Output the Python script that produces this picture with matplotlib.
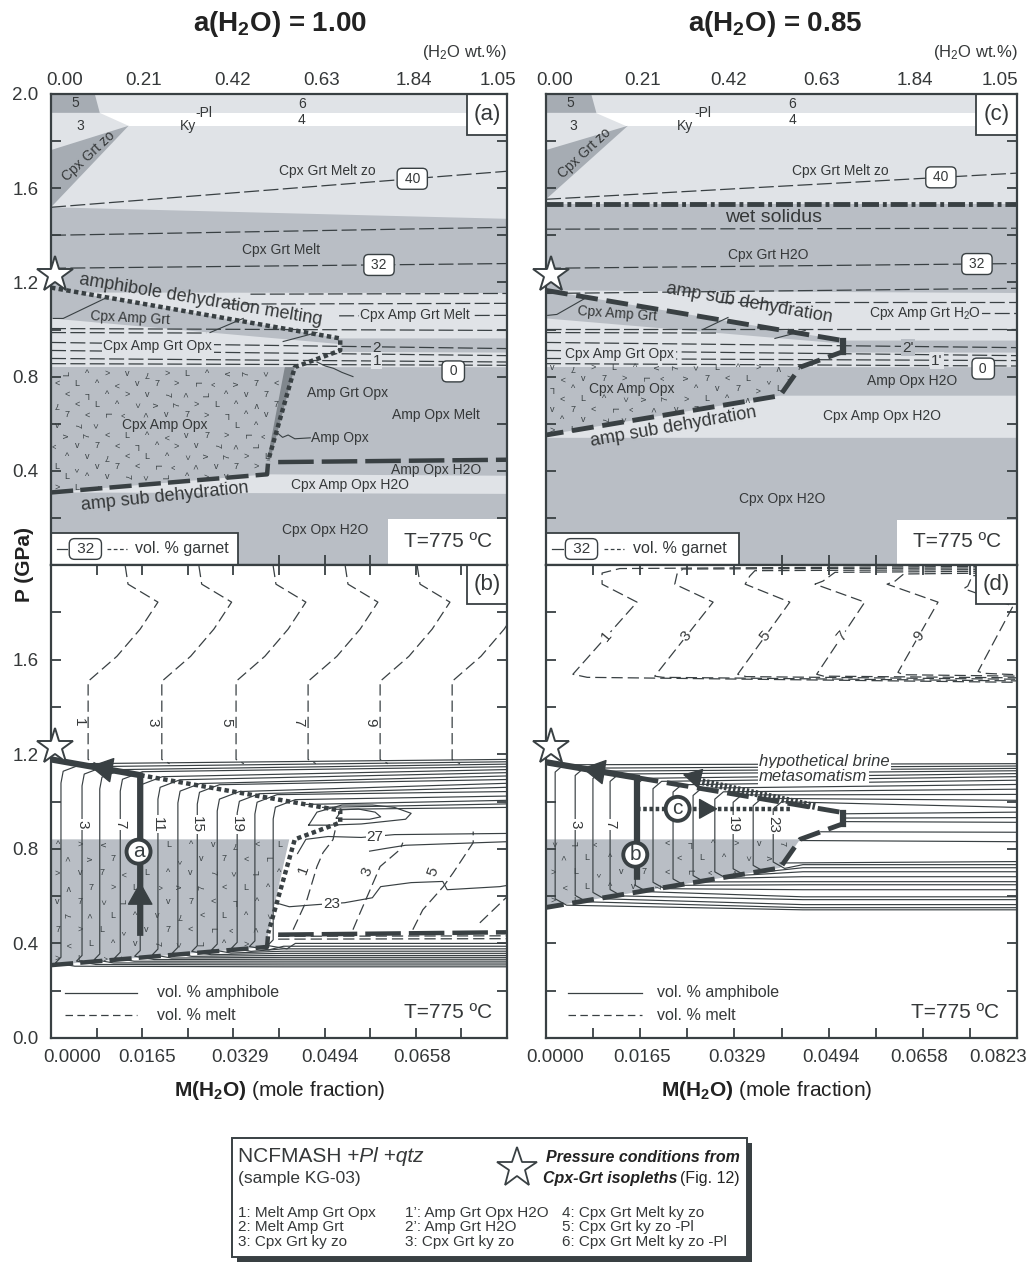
import numpy as np
import matplotlib
matplotlib.use("Agg")
import matplotlib.pyplot as plt
from matplotlib.patches import Polygon, Rectangle
from matplotlib.path import Path
from matplotlib.transforms import ScaledTranslation

plt.rcParams['font.family'] = ['Liberation Sans', 'DejaVu Sans']
plt.rcParams['mathtext.fontset'] = 'custom'
plt.rcParams['mathtext.rm'] = 'Liberation Sans'
plt.rcParams['mathtext.it'] = 'Liberation Sans:italic'
plt.rcParams['mathtext.bf'] = 'Liberation Sans:bold'

# palette
LIGHT = '#e0e3e7'
MED = '#b9bec5'
DARK = '#a6acb3'
SLIVER = '#80878d'
INK = '#394043'
TXT = '#353839'

XMAX = 0.0823
PMAX = 2.0

# axis ticks and labels
x_major = [0.0, 0.0165, 0.0329, 0.0494, 0.0658, 0.0823]
x_bottom_labels = ['0.0000', '0.0165', '0.0329', '0.0494', '0.0658', '0.0823']
x_top_labels = ['0.00', '0.21', '0.42', '0.63', '1.84', '1.05']
p_ticks = [0.0, 0.2, 0.4, 0.6, 0.8, 1.0, 1.2, 1.4, 1.6, 1.8, 2.0]

# pressure from Cpx-Grt isopleths
star_x, star_p = 0.0008, 1.23

# ---------------- fields common to both water activities
f5_x = [0.0, 0.0079, 0.0088, 0.0]
f5_p = [2.0, 2.0, 1.92, 1.92]
ky_x = [0.0088, XMAX, XMAX, 0.0140]
ky_p = [1.92, 1.92, 1.865, 1.865]

# ---------------- a(H2O) = 1.00 pseudosection
zo_a_x = [0.0, 0.0140, 0.0]
zo_a_p = [1.762, 1.865, 1.519]
hi_a_x = [0.0, XMAX, XMAX, 0.0]
hi_a_p = [2.0, 2.0, 1.47, 1.519]
mband_a_x = [0.0044, XMAX, XMAX, 0.0522]
mband_a_p = [1.157, 1.155, 0.962, 0.962]
low_a_x = [0.0, 0.0522, 0.0522, XMAX, XMAX, 0.0]
low_a_p = [1.047, 0.938, 0.905, 0.902, 0.840, 0.840]
hatch_a_x = [0.0, 0.0422, 0.0390, 0.0390, 0.0]
hatch_a_p = [0.840, 0.840, 0.443, 0.385, 0.308]
sliver_a_x = [0.0422, 0.0440, 0.0395, 0.0390]
sliver_a_p = [0.840, 0.840, 0.443, 0.443]
h2o_a_x = [0.0, 0.0390, XMAX, XMAX]
h2o_a_p = [0.308, 0.385, 0.379, 0.302]
dm_x = [0.0, 0.0522, 0.0522, 0.0440, 0.0392]
dm_p = [1.178, 0.962, 0.911, 0.840, 0.443]
sub_a_x = [0.0, 0.0390, 0.0392]
sub_a_p = [0.308, 0.385, 0.443]
sat_x = [0.0410, XMAX]
sat_p = [0.437, 0.447]

grt_a = [(0.0, XMAX, 1.519, 1.672), (0.0, XMAX, 1.400, 1.434), (0.0, XMAX, 1.260, 1.280),
         (0.036, XMAX, 1.150, 1.153), (0.031, XMAX, 1.108, 1.111), (0.052, XMAX, 1.058, 1.060),
         (0.0, XMAX, 1.004, 0.996), (0.0, 0.028, 0.987, 0.985), (0.0, XMAX, 0.945, 0.919),
         (0.0, XMAX, 0.911, 0.889), (0.0, XMAX, 0.877, 0.862), (0.0, XMAX, 0.855, 0.848)]
grt_a_tags = [('40', 0.0652, 1.640), ('32', 0.0592, 1.274), ('0', 0.0726, 0.822)]
lead_a = [([0.0004, 0.0022, 0.0101], [1.047, 1.047, 1.136]),
          ([0.0287, 0.0347], [0.987, 1.047]),
          ([0.0419, 0.0480], [0.949, 0.987]),
          ([0.0480, 0.0495, 0.0510, 0.0525, 0.0545], [0.862, 0.845, 0.835, 0.818, 0.800]),
          ([0.0408, 0.0418, 0.0428, 0.0440, 0.0468], [0.562, 0.542, 0.552, 0.536, 0.540])]

# ---------------- a(H2O) = 0.85 pseudosection
zo_c_x = [0.0, 0.0143, 0.0]
zo_c_p = [1.762, 1.865, 1.553]
hi_c_x = [0.0, XMAX, XMAX, 0.0]
hi_c_p = [2.0, 2.0, 1.532, 1.532]
wet_solidus_p = 1.532
mband_c_x = [0.0, XMAX, XMAX, 0.0519]
mband_c_p = [1.166, 1.155, 0.953, 0.953]
low_c_x = [0.0, 0.0519, 0.0519, XMAX, XMAX, 0.0]
low_c_p = [1.047, 0.940, 0.902, 0.902, 0.840, 0.840]
hatch_c_x = [0.0, 0.0444, 0.0409, 0.0]
hatch_c_p = [0.840, 0.840, 0.719, 0.552]
h2o_c_x = [0.0, 0.0409, XMAX, XMAX, 0.0]
h2o_c_p = [0.552, 0.719, 0.719, 0.540, 0.540]
sub_c_x = [0.0, 0.0519, 0.0519, 0.0444, 0.0409, 0.0]
sub_c_p = [1.166, 0.953, 0.906, 0.840, 0.719, 0.552]

grt_c = [(0.0, XMAX, 1.553, 1.664), (0.0, XMAX, 1.426, 1.430), (0.0, XMAX, 1.260, 1.280),
         (0.0, XMAX, 1.153, 1.175), (0.030, XMAX, 1.115, 1.115), (0.058, XMAX, 1.068, 1.068),
         (0.0, XMAX, 1.004, 1.004), (0.0, 0.030, 0.987, 0.985), (0.0, XMAX, 0.945, 0.923),
         (0.0, XMAX, 0.911, 0.889), (0.0, XMAX, 0.877, 0.868), (0.0, XMAX, 0.855, 0.845)]
grt_c_tags = [('40', 0.0690, 1.646), ('32', 0.0753, 1.278), ('0', 0.0764, 0.834)]
lead_c = [([0.0003, 0.0019, 0.0068], [1.060, 1.064, 1.132]),
          ([0.0274, 0.0318], [1.000, 1.051]),
          ([0.0400, 0.0453], [0.962, 0.996])]

# ---------------- isopleths, a(H2O) = 1.00 (vol. %)
melt_b_x0 = [0.0067, 0.0200, 0.0334, 0.0464, 0.0594, 0.0724]
melt_b_tags = ['1', '3', '5', '7', '9', '']
melt_b_dx = [0.0067, 0.0072, 0.0126, 0.0094, 0.0052, 0.0, 0.0, 0.0014]
melt_b_p = [1.996, 1.919, 1.843, 1.729, 1.614, 1.508, 1.178, 1.160]
amp_b_x = [0.0018, 0.0056, 0.0088, 0.0125, 0.0161, 0.0193, 0.0229, 0.0264, 0.0300, 0.0336, 0.0368, 0.0401]
amp_b_top = [1.148, 1.136, 1.123, 1.114, 1.093, 1.080, 1.064, 1.059, 1.030, 1.021, 1.017, 0.996]
amp_b_hi = [1.178, 1.168, 1.158, 1.147, 1.135, 1.122, 1.108, 1.093, 1.077, 1.060, 1.042, 1.023]
amp_b_lo = [0.301, 0.309, 0.317, 0.325, 0.333, 0.341, 0.349, 0.358, 0.367, 0.377, 0.388, 0.400]
amp_b_tags = [('3', 1), ('7', 3), ('11', 5), ('15', 7), ('19', 9)]
amp_b_extra = [(0.046, 1.005), (0.049, 0.990), (0.051, 0.975)]
amp_b_loops = [([0.0515, 0.0525, 0.0555, 0.0585, 0.0595, 0.0575, 0.0525, 0.0515],
                [0.930, 0.965, 0.968, 0.955, 0.935, 0.925, 0.925, 0.930]),
               ([0.0465, 0.0480, 0.0525, 0.0580, 0.0620, 0.0650, 0.0640, 0.0560, 0.0500, 0.0465],
                [0.900, 0.955, 0.985, 0.985, 0.975, 0.950, 0.925, 0.905, 0.900, 0.900]),
               ([0.0445, 0.0460, 0.0500, 0.0560, 0.0620, XMAX],
                [0.780, 0.840, 0.852, 0.848, 0.860, 0.865]),
               ([0.0575, 0.0600, 0.0640, XMAX], [0.790, 0.800, 0.815, 0.830]),
               ([0.0405, 0.0430, 0.0480, 0.0530, 0.0580, 0.0595, 0.0650, 0.0707, 0.0715, 0.0810, XMAX],
                [0.572, 0.555, 0.564, 0.572, 0.593, 0.640, 0.657, 0.662, 0.627, 0.640, 0.645])]
amp_b_loop_tags = [('27', 0.0585, 0.850), ('23', 0.0507, 0.566)]
meltlow_b = [([0.0437, 0.0462, 0.0480, 0.0491, 0.0509, 0.0516], [0.458, 0.585, 0.725, 0.784, 0.839, 0.911]),
             ([0.0545, 0.0558, 0.0576, 0.0594, 0.0630, 0.0635], [0.458, 0.530, 0.627, 0.725, 0.797, 0.826]),
             ([0.0653, 0.0671, 0.0708, 0.0726, 0.0762, 0.0762], [0.458, 0.542, 0.640, 0.699, 0.826, 0.873]),
             ([0.0774, XMAX], [0.487, 0.597])]
meltlow_b_tags = [('1', 0.0455, 0.712), ('3', 0.0570, 0.703), ('5', 0.0689, 0.703)]
melt_flat_b = [0.430, 0.418]

# ---------------- isopleths, a(H2O) = 0.85 (vol. %)
melt_d = [([XMAX, 0.0129, 0.0098, 0.0098, 0.0159, 0.0047, 0.0072, XMAX],
           [1.995, 1.985, 1.966, 1.919, 1.843, 1.538, 1.525, 1.504]),
          ([XMAX, 0.0239, 0.0229, 0.0225, 0.0292, 0.0190, 0.0204, XMAX],
           [1.988, 1.983, 1.962, 1.919, 1.843, 1.530, 1.525, 1.510]),
          ([XMAX, 0.0365, 0.0356, 0.0348, 0.0426, 0.0335, 0.0350, XMAX],
           [1.981, 1.976, 1.953, 1.919, 1.843, 1.538, 1.528, 1.517]),
          ([XMAX, 0.0505, 0.0484, 0.0470, 0.0557, 0.0473, 0.0485, XMAX],
           [1.974, 1.969, 1.932, 1.919, 1.843, 1.538, 1.530, 1.523]),
          ([XMAX, 0.0625, 0.0610, 0.0596, 0.0685, 0.0615, 0.0625, XMAX],
           [1.967, 1.962, 1.932, 1.919, 1.843, 1.546, 1.536, 1.530]),
          ([XMAX, 0.0745, 0.0737, 0.0730, 0.0816, 0.0755, 0.0765, XMAX],
           [1.960, 1.955, 1.911, 1.900, 1.826, 1.550, 1.542, 1.536])]
melt_d_tags = ['1', '3', '5', '7', '9', '']
amp_d_x = [0.0016, 0.0051, 0.0082, 0.0112, 0.0156, 0.0187, 0.0222, 0.0257, 0.0295, 0.0327, 0.0362, 0.0397]
amp_d_hi = [1.160, 1.150, 1.140, 1.130, 1.118, 1.105, 1.090, 1.072, 1.052, 1.030, 1.005, 0.975]
amp_d_lo = [0.542, 0.551, 0.564, 0.585, 0.597, 0.627, 0.648, 0.661, 0.682, 0.703, 0.720, 0.733]
amp_d_tags = [('3', 1), ('7', 3), ('19', 9), ('23', 11)]
amp_d_extra = [(0.0519, 0.948, 0.955), (0.0519, 0.930, 0.932), (0.0519, 0.915, 0.912),
               (0.0480, 0.872, 0.870), (0.0444, 0.835, 0.830), (0.0409, 0.740, 0.746)]

# P-X paths
path_a_x = 0.0161
path_a_low = 0.445
path_b_x = 0.0159
path_b_low = 0.682
path_c_p = 0.969
path_c_x = [0.0159, 0.0430]
brine_x = [0.0470, 0.0239]
brine_p = [0.979, 1.114]

# ------------------------------------------------------------------ figure
W, H = 1032, 1267
fig = plt.figure(figsize=(W / 100, H / 100), dpi=100)


def frect(x0, y0, x1, y1):
    return [x0 / W, 1 - y1 / H, (x1 - x0) / W, (y1 - y0) / H]


ax_a = fig.add_axes(frect(51, 94, 507, 565))
ax_b = fig.add_axes(frect(51, 565, 507, 1038))
ax_c = fig.add_axes(frect(546, 94, 1017, 565))
ax_d = fig.add_axes(frect(546, 565, 1017, 1038))

minor_x = [(u + v) / 2 for u, v in zip(x_major[:-1], x_major[1:])]


def frame(ax, ylab_show, xlab_show):
    ax.set_xlim(0, XMAX)
    ax.set_ylim(0, PMAX)
    ax.set_xticks(x_major)
    ax.set_xticks(minor_x, minor=True)
    ax.set_yticks(p_ticks)
    ax.set_yticklabels([f'{p:.1f}' if f'{p:.1f}' in ylab_show else '' for p in p_ticks])
    ax.set_xticklabels([l if i in xlab_show else '' for i, l in enumerate(x_bottom_labels)])
    ax.tick_params(which='both', direction='in', length=7, width=1.3, color=INK,
                   top=True, right=True, labelsize=13.5, labelcolor=TXT)
    ax.tick_params(axis='x', pad=8)
    ax.tick_params(axis='y', pad=9)
    for s in ax.spines.values():
        s.set_color(INK)
        s.set_linewidth(1.6)
        s.set_zorder(10)


def top_axis(ax):
    t = ax.twiny()
    t.set_xlim(0, XMAX)
    t.set_xticks(x_major)
    t.set_xticklabels(x_top_labels)
    t.tick_params(length=0, pad=3.5, labelsize=13.5, labelcolor=TXT)
    for s in t.spines.values():
        s.set_visible(False)
    return t


def fill(ax, xs, ps, color, z=0.5):
    ax.add_patch(Polygon(np.column_stack([xs, ps]), closed=True, fc=color, ec='none', zorder=z))


hatch_glyphs = ['>', 'L', '^', 'v', '7', '<', 'L', '^', '>', 'v', '7']
hatch_rot = [0, 0, 90, 0, 180, 0, 270, 0, 0, 90]


def hatch_marks(ax, xs, ps, dx=0.0034, dp=0.046, skip=()):
    path = Path(np.column_stack([xs, ps]))
    k = 0
    row = 0
    p = min(ps) + dp * 0.5
    while p < max(ps):
        x = min(xs) + dx * (0.3 + 0.5 * (row % 2))
        while x < max(xs):
            free = not any(a <= x <= b and c <= p <= d for a, b, c, d in skip)
            if free and path.contains_point((x, p)):
                ax.text(x, p, hatch_glyphs[k % len(hatch_glyphs)], rotation=hatch_rot[(3 * k + row) % 10],
                        fontsize=6.5, color=INK, ha='center', va='center', zorder=1.2)
            k += 1
            x += dx
        p += dp
        row += 1


def tx(ax, x, p, s, size=10, **kw):
    opts = dict(ha='center', va='center', color=TXT, fontsize=size, zorder=4)
    opts.update(kw)
    return ax.text(x, p, s, **opts)


def tag_box(ax, x, p, s):
    ax.text(x, p, ' ' + s + ' ', ha='center', va='center', fontsize=10, color=TXT, zorder=6,
            bbox=dict(boxstyle='round,pad=0.25,rounding_size=0.35', fc='white', ec=INK, lw=1.0))


def iso_lines(ax, lines):
    for x0, x1, p0, p1 in lines:
        ax.plot([x0, x1], [p0, p1], color=INK, lw=0.9, ls=(0, (12, 3.5)), zorder=2)


def panel_tag(ax, s, p0):
    ax.add_patch(Rectangle((0.0751, p0), XMAX - 0.0751, PMAX - p0, fc='white', ec=INK, lw=1.3, zorder=7))
    tx(ax, (0.0751 + XMAX) / 2, (p0 + PMAX) / 2, s, size=16, zorder=8)


def grt_legend(ax):
    ax.add_patch(Rectangle((0.0, 0.0), 0.0338, 0.136, fc='white', ec=INK, lw=1.3, zorder=6))
    ax.plot([0.0011, 0.0029], [0.068, 0.068], color=INK, lw=0.9, zorder=7)
    ax.plot([0.0101, 0.0137], [0.068, 0.068], color=INK, lw=0.9, ls=(0, (3, 2)), zorder=7)
    ax.text(0.0062, 0.068, ' 32 ', ha='center', va='center', fontsize=11, color=TXT, zorder=8,
            bbox=dict(boxstyle='round,pad=0.22,rounding_size=0.35', fc='white', ec=INK, lw=1.0))
    tx(ax, 0.0152, 0.068, 'vol. % garnet', size=11.5, ha='left', zorder=8)


def t_label(ax, x_box, p_box, x, p):
    if x_box is not None:
        ax.add_patch(Rectangle((x_box, 0.0), XMAX - x_box, p_box, fc='white', ec='none', zorder=5))
    tx(ax, x, p, 'T=775 ºC', size=15, zorder=6)


def star(ax):
    ax.plot(star_x, star_p, marker='*', ms=27, mfc='white', mec=INK, mew=1.4,
            clip_on=False, zorder=12)


def head(ax, tip, tail, scale):
    ax.annotate('', xy=tip, xytext=tail, zorder=9, annotation_clip=False,
                arrowprops=dict(arrowstyle='-|>,head_length=0.5,head_width=0.28', mutation_scale=scale,
                                fc=INK, ec=INK, lw=1, shrinkA=0, shrinkB=0))


def circ(ax, x, p, s):
    ax.text(x, p, s, ha='center', va='center', fontsize=15, color=INK, zorder=11,
            bbox=dict(boxstyle='circle,pad=0.12', fc='white', ec=INK, lw=2.8))


LBG = dict(fc=LIGHT, ec='none', pad=1.0)
MBG = dict(fc=MED, ec='none', pad=1.0)
WBG = dict(fc='white', ec='none', pad=0.8)

# ================================================================ (a)
ax = ax_a
frame(ax, ['0.4', '0.8', '1.2', '1.6', '2.0'], [])
top_a = top_axis(ax)
ax.add_patch(Rectangle((0, 0), XMAX, PMAX, fc=MED, ec='none', zorder=0))
fill(ax, hi_a_x, hi_a_p, LIGHT)
fill(ax, f5_x, f5_p, DARK)
fill(ax, ky_x, ky_p, 'white')
fill(ax, zo_a_x, zo_a_p, DARK)
fill(ax, mband_a_x, mband_a_p, LIGHT)
fill(ax, low_a_x, low_a_p, LIGHT)
fill(ax, hatch_a_x, hatch_a_p, MED)
fill(ax, sliver_a_x, sliver_a_p, SLIVER)
fill(ax, h2o_a_x, h2o_a_p, LIGHT)
hatch_marks(ax, hatch_a_x, hatch_a_p, dx=0.0036, dp=0.044, skip=[(0.0105, 0.0305, 0.555, 0.637)])
iso_lines(ax, grt_a)
for xs, ps in lead_a:
    ax.plot(xs, ps, color=INK, lw=0.8, zorder=2.5)
ax.plot(dm_x, dm_p, color=INK, lw=3.2, ls=(0, (1, 0.75)), zorder=3)
ax.plot(sub_a_x, sub_a_p, color=INK, lw=3.2, ls=(0, (5, 1.6)), zorder=3)
ax.plot(sat_x, sat_p, color=INK, lw=3.2, ls=(0, (8, 1.8)), zorder=3)
for s, x, p in grt_a_tags:
    tag_box(ax, x, p, s)
tx(ax, 0.0043, 1.962, '5')
tx(ax, 0.0052, 1.862, '3')
tx(ax, 0.0247, 1.862, 'Ky')
tx(ax, 0.0276, 1.919, '-Pl')
tx(ax, 0.0453, 1.957, '6')
tx(ax, 0.0453, 1.889, '4')
tx(ax, 0.0067, 1.735, 'Cpx Grt zo', rotation=43)
tx(ax, 0.0498, 1.672, 'Cpx Grt Melt zo')
tx(ax, 0.0415, 1.336, 'Cpx Grt Melt')
tx(ax, 0.0270, 1.126, 'amphibole dehydration melting', size=13, rotation=-9.5)
tx(ax, 0.0143, 1.047, 'Cpx Amp Grt', rotation=-3)
tx(ax, 0.0193, 0.928, 'Cpx Amp Grt Opx', bbox=LBG)
tx(ax, 0.0657, 1.060, 'Cpx Amp Grt Melt', bbox=LBG)
tx(ax, 0.0588, 0.923, '2', size=11, bbox=MBG)
tx(ax, 0.0588, 0.868, '1', size=11, bbox=LBG)
tx(ax, 0.0535, 0.732, 'Amp Grt Opx')
tx(ax, 0.0695, 0.638, 'Amp Opx Melt')
tx(ax, 0.0205, 0.596, 'Cpx Amp Opx')
tx(ax, 0.0470, 0.540, 'Amp Opx', ha='left')
tx(ax, 0.0695, 0.404, 'Amp Opx H2O')
tx(ax, 0.0540, 0.340, 'Cpx Amp Opx H2O')
tx(ax, 0.0206, 0.288, 'amp sub dehydration', size=13, rotation=6)
tx(ax, 0.0495, 0.149, 'Cpx Opx H2O')
t_label(ax, 0.0608, 0.196, 0.0717, 0.098)
grt_legend(ax)
panel_tag(ax, '(a)', 1.826)
star(ax)

# ================================================================ (c)
ax = ax_c
frame(ax, [], [])
top_c = top_axis(ax)
ax.add_patch(Rectangle((0, 0), XMAX, PMAX, fc=MED, ec='none', zorder=0))
fill(ax, hi_c_x, hi_c_p, LIGHT)
fill(ax, f5_x, f5_p, DARK)
fill(ax, ky_x, ky_p, 'white')
fill(ax, zo_c_x, zo_c_p, DARK)
fill(ax, mband_c_x, mband_c_p, LIGHT)
fill(ax, low_c_x, low_c_p, LIGHT)
fill(ax, hatch_c_x, hatch_c_p, MED)
fill(ax, h2o_c_x, h2o_c_p, LIGHT)
hatch_marks(ax, hatch_c_x, hatch_c_p, dx=0.0036, dp=0.044, skip=[(0.0055, 0.0245, 0.712, 0.788)])
iso_lines(ax, grt_c)
for xs, ps in lead_c:
    ax.plot(xs, ps, color=INK, lw=0.8, zorder=2.5)
ax.plot([0, XMAX], [wet_solidus_p, wet_solidus_p], color=INK, lw=3.5,
        ls=(0, (3.5, 0.8, 0.8, 0.8)), zorder=3)
ax.plot(sub_c_x, sub_c_p, color=INK, lw=3.5, ls=(0, (4.5, 1.8)), zorder=3)
ax.plot(sub_c_x[1:3], sub_c_p[1:3], color=INK, lw=4.5, zorder=3)
for s, x, p in grt_c_tags:
    tag_box(ax, x, p, s)
tx(ax, 0.0042, 1.962, '5')
tx(ax, 0.0047, 1.862, '3')
tx(ax, 0.0243, 1.862, 'Ky')
tx(ax, 0.0274, 1.919, '-Pl')
tx(ax, 0.0430, 1.957, '6')
tx(ax, 0.0430, 1.889, '4')
tx(ax, 0.0068, 1.749, 'Cpx Grt zo', rotation=43)
tx(ax, 0.0514, 1.672, 'Cpx Grt Melt zo')
tx(ax, 0.0397, 1.477, 'wet solidus', size=14)
tx(ax, 0.0388, 1.315, 'Cpx Grt H2O')
tx(ax, 0.0355, 1.112, 'amp sub dehydration', size=13, rotation=-10)
tx(ax, 0.0124, 1.066, 'Cpx Amp Grt', rotation=-4)
tx(ax, 0.0662, 1.068, r'Cpx Amp Grt H$_2$O', bbox=LBG)
tx(ax, 0.0129, 0.894, 'Cpx Amp Grt Opx', bbox=LBG)
tx(ax, 0.0633, 0.923, "2'", size=11, bbox=MBG)
tx(ax, 0.0683, 0.868, "1'", size=11, bbox=LBG)
tx(ax, 0.0150, 0.749, 'Cpx Amp Opx')
tx(ax, 0.0640, 0.783, 'Amp Opx H2O')
tx(ax, 0.0587, 0.634, 'Cpx Amp Opx H2O')
tx(ax, 0.0222, 0.585, 'amp sub dehydration', size=13, rotation=10)
tx(ax, 0.0412, 0.281, 'Cpx Opx H2O')
t_label(ax, 0.0613, 0.191, 0.0718, 0.100)
grt_legend(ax)
panel_tag(ax, '(c)', 1.826)
star(ax)

# ================================================================ (b)
ax = ax_b
frame(ax, ['0.0', '0.4', '0.8', '1.2', '1.6'], [0, 1, 2, 3, 4])
gray_b_x = [0.0, 0.0430, 0.0392, 0.0390, 0.0]
gray_b_p = [0.840, 0.840, 0.443, 0.385, 0.308]
fill(ax, gray_b_x, gray_b_p, MED, z=0.3)
hatch_marks(ax, gray_b_x, gray_b_p, dx=0.0040, dp=0.060, skip=[(0.0120, 0.0200, 0.730, 0.845)])

# melt isopleths (dashed)
for x0, lab in zip(melt_b_x0, melt_b_tags):
    ax.plot([x0 + d for d in melt_b_dx], melt_b_p, color=INK, lw=0.9, ls=(0, (9, 4)), zorder=2)
    if lab:
        tx(ax, x0 - 0.0017, 1.335, lab, size=11, rotation=-90)
for xs, ps in meltlow_b:
    ax.plot(xs, ps, color=INK, lw=0.9, ls=(0, (9, 4)), zorder=2)
for lab, x, p in meltlow_b_tags:
    tx(ax, x, p, lab, size=11, rotation=70, bbox=WBG)
for p in melt_flat_b:
    ax.plot([0.0410, XMAX], [p, p + 0.002], color=INK, lw=0.9, ls=(0, (9, 4)), zorder=2)

# amphibole isopleths (solid)
bx = sub_a_x[:2]
bp = sub_a_p[:2]
for i, x in enumerate(amp_b_x):
    top = amp_b_top[i]
    bot = np.interp(x, bx, bp)
    xs = [XMAX, x + 0.004, x + 0.0004, x, x, x - 0.0010, x + 0.0025, max(x + 0.004, 0.042), XMAX]
    ps = [amp_b_hi[i], top + 0.012, top - 0.020, top - 0.070, bot + 0.030, bot + 0.006,
          bot - 0.008, amp_b_lo[i], amp_b_lo[i]]
    ax.plot(xs, ps, color=INK, lw=0.85, zorder=2)
for lab, i in amp_b_tags:
    tx(ax, amp_b_x[i], 0.903, lab, size=11, rotation=-90, bbox=WBG)
for x0, pr in amp_b_extra:
    p0 = np.interp(x0, dm_x[:2], dm_p[:2])
    ax.plot([x0, XMAX], [p0, pr], color=INK, lw=0.85, zorder=2)
for xs, ps in amp_b_loops:
    ax.plot(xs, ps, color=INK, lw=0.85, zorder=2)
for lab, x, p in amp_b_loop_tags:
    tx(ax, x, p, lab, size=11, bbox=WBG)

# boundaries and P-X path
corner_a = np.interp(path_a_x, dm_x[:2], dm_p[:2])
ax.plot([path_a_x] + dm_x[1:], [corner_a] + dm_p[1:], color=INK, lw=3.2, ls=(0, (1, 0.75)), zorder=3)
ax.plot(sub_a_x, sub_a_p, color=INK, lw=3.2, ls=(0, (5, 1.6)), zorder=3)
ax.plot(sat_x, sat_p, color=INK, lw=3.2, ls=(0, (8, 1.8)), zorder=3)
ax.plot([0.0, path_a_x, path_a_x], [dm_p[0], corner_a, path_a_low], color=INK, lw=4.5,
        solid_joinstyle='miter', zorder=5)
head(ax, (0.0070, np.interp(0.0070, [0, path_a_x], [dm_p[0], corner_a])),
     (0.0110, np.interp(0.0110, [0, path_a_x], [dm_p[0], corner_a])), 30)
head(ax, (path_a_x, 0.660), (path_a_x, 0.600), 30)
circ(ax, path_a_x - 0.0003, 0.788, 'a')

ax.plot([0.0025, 0.0155], [0.191, 0.191], color=INK, lw=0.9, zorder=4)
ax.plot([0.0025, 0.0155], [0.097, 0.097], color=INK, lw=0.9, ls=(0, (6, 3.5)), zorder=4)
tx(ax, 0.0191, 0.191, 'vol. % amphibole', size=11.5, ha='left')
tx(ax, 0.0191, 0.097, 'vol. % melt', size=11.5, ha='left')
t_label(ax, None, None, 0.0717, 0.106)
panel_tag(ax, '(b)', 1.835)
star(ax)

# ================================================================ (d)
ax = ax_d
frame(ax, [], [0, 1, 2, 3, 4, 5])
fill(ax, hatch_c_x, hatch_c_p, MED, z=0.3)
hatch_marks(ax, hatch_c_x, hatch_c_p, dx=0.0040, dp=0.060, skip=[(0.0118, 0.0198, 0.715, 0.835)])

for (xs, ps), lab in zip(melt_d, melt_d_tags):
    ax.plot(xs, ps, color=INK, lw=0.9, ls=(0, (9, 4)), zorder=2)
    if lab:
        xl = np.interp(1.70, [ps[5], ps[4]], [xs[5], xs[4]])
        tx(ax, xl, 1.70, lab, size=11, rotation=50, bbox=WBG)

ux = sub_c_x[:2]
up = sub_c_p[:2]
lx = [sub_c_x[5], sub_c_x[4]]
lp = [sub_c_p[5], sub_c_p[4]]
for i, x in enumerate(amp_d_x):
    b_up = np.interp(x, ux, up)
    b_lo = np.interp(x, lx, lp)
    xs = [XMAX, x + 0.0015, x, x, x + 0.002, max(x + 0.005, 0.0449), XMAX]
    ps = [amp_d_hi[i], b_up - 0.004, b_up - 0.035, b_lo + 0.030, b_lo + 0.003, amp_d_lo[i], amp_d_lo[i]]
    ax.plot(xs, ps, color=INK, lw=0.85, zorder=2)
for x0, p0, pr in amp_d_extra:
    ax.plot([x0, XMAX], [p0, pr], color=INK, lw=0.85, zorder=2)
for lab, i in amp_d_tags:
    tx(ax, amp_d_x[i], 0.903, lab, size=11, rotation=-90, bbox=WBG)

ax.plot(sub_c_x, sub_c_p, color=INK, lw=3.5, ls=(0, (4.5, 1.8)), zorder=3)
ax.plot(sub_c_x[1:3], sub_c_p[1:3], color=INK, lw=4.5, zorder=3)
corner_b = np.interp(path_b_x, ux, up)
ax.plot([0.0, path_b_x, path_b_x], [sub_c_p[0], corner_b, path_b_low], color=INK, lw=4.5,
        solid_joinstyle='miter', zorder=5)
head(ax, (0.0063, np.interp(0.0063, [0, path_b_x], [sub_c_p[0], corner_b])),
     (0.0100, np.interp(0.0100, [0, path_b_x], [sub_c_p[0], corner_b])), 30)
circ(ax, path_b_x - 0.0003, 0.775, 'b')
ax.plot(path_c_x, [path_c_p, path_c_p], color=INK, lw=3.2, ls=(0, (0.8, 0.6)), zorder=5)
head(ax, (0.0300, path_c_p), (0.0268, path_c_p), 24)
circ(ax, 0.0230, path_c_p, 'c')

ax.plot([brine_x[0], 0.0255], [brine_p[0], 1.093], color=INK, lw=5, ls=(0, (0.35, 0.3)), zorder=6)
head(ax, (brine_x[1], brine_p[1]), (0.0267, 1.098), 24)
tx(ax, 0.0487, 1.169, 'hypothetical brine', size=12, style='italic', zorder=7, bbox=WBG)
tx(ax, 0.0467, 1.106, 'metasomatism', size=12, style='italic', zorder=7, bbox=WBG)

ax.plot([0.0038, 0.0167], [0.191, 0.191], color=INK, lw=0.9, zorder=4)
ax.plot([0.0038, 0.0167], [0.097, 0.097], color=INK, lw=0.9, ls=(0, (6, 3.5)), zorder=4)
tx(ax, 0.0194, 0.191, 'vol. % amphibole', size=11.5, ha='left')
tx(ax, 0.0194, 0.097, 'vol. % melt', size=11.5, ha='left')
t_label(ax, None, None, 0.0715, 0.106)
panel_tag(ax, '(d)', 1.835)
star(ax)

# ---------------------------------------------------------- outer labels
def ftext(x, y, s, **kw):
    return fig.text(x / W, 1 - y / H, s, **kw)


ftext(280, 24, r'$\mathbf{a(H_2O)}$ = 1.00', fontsize=20, fontweight='bold', ha='center', va='center',
      color='#222222')
ftext(775, 24, r'$\mathbf{a(H_2O)}$ = 0.85', fontsize=20, fontweight='bold', ha='center', va='center',
      color='#222222')
ftext(507, 52, r'(H$_2$O wt.%)', fontsize=12, ha='right', va='center', color=TXT)
ftext(1018, 52, r'(H$_2$O wt.%)', fontsize=12, ha='right', va='center', color=TXT)
ftext(24, 565, 'P (GPa)', fontsize=15, fontweight='bold', rotation=90, ha='center', va='center', color='#222222')
ftext(280, 1090, r'$\mathbf{M(H_2O)}$ (mole fraction)', fontsize=15, ha='center', va='center', color='#222222')
ftext(767, 1090, r'$\mathbf{M(H_2O)}$ (mole fraction)', fontsize=15, ha='center', va='center', color='#222222')

# rock-system legend box
fig.add_artist(Rectangle((237 / W, 1 - 1262 / H), 515 / W, 119 / H, transform=fig.transFigure,
                         fc=INK, ec='none', zorder=1))
fig.add_artist(Rectangle((232 / W, 1 - 1257 / H), 515 / W, 119 / H, transform=fig.transFigure,
                         fc='white', ec=INK, lw=1.4, zorder=2))
sys_name = ftext(238, 1157, 'NCFMASH ', fontsize=15, ha='left', va='center', color=TXT, zorder=3)
ftext(238, 1179, '(sample KG-03)', fontsize=12.5, ha='left', va='center', color=TXT, zorder=3)
fig.add_artist(plt.Line2D([517 / W], [1 - 1168 / H], marker='*', ms=30, mfc='white', mec=INK, mew=1.3,
                          transform=fig.transFigure, zorder=3))
ftext(740, 1157, 'Pressure conditions from', fontsize=11.5, fontweight='bold', style='italic',
      ha='right', va='center', color='#222222', zorder=3)
fig_ref = ftext(740, 1179, '(Fig. 12)', fontsize=11.5, ha='right', va='center', color='#222222', zorder=3)
fig.canvas.draw()
rend = fig.canvas.get_renderer()
ref_w = fig_ref.get_window_extent(renderer=rend).width
name_w = sys_name.get_window_extent(renderer=rend).width
ftext(740 - ref_w - 3, 1179, 'Cpx-Grt isopleths', fontsize=11.5, fontweight='bold', style='italic',
      ha='right', va='center', color='#222222', zorder=3)
ftext(238 + name_w, 1157, '+Pl +qtz', fontsize=15, style='italic', ha='left', va='center', color=TXT, zorder=3)

legend_cols = [(238, ['1: Melt Amp Grt Opx', '2: Melt Amp Grt', '3: Cpx Grt ky zo']),
               (405, ['1’: Amp Grt Opx H2O', '2’: Amp Grt H2O', '3: Cpx Grt ky zo']),
               (562, ['4: Cpx Grt Melt ky zo', '5: Cpx Grt ky zo -Pl', '6: Cpx Grt Melt ky zo -Pl'])]
for xc, items in legend_cols:
    for j, s in enumerate(items):
        ftext(xc, 1213 + 14.5 * j, s, fontsize=11, ha='left', va='center', color=TXT, zorder=3)

# ---------------------------------------------------------- tick label nudges
def nudge(labels, dxs):
    for lab, dx in zip(labels, dxs):
        lab.set_transform(lab.get_transform() + ScaledTranslation(dx / 100, 0, fig.dpi_scale_trans))


nudge(ax_b.xaxis.get_majorticklabels(), [21, 5, 7, 5, 7, 0])
nudge(ax_d.xaxis.get_majorticklabels(), [9, 2, 3, 2, -3, -19])
nudge(top_a.xaxis.get_majorticklabels(), [14, 1, -1, -3, -2, -9])
nudge(top_c.xaxis.get_majorticklabels(), [9, 2, -6, -7, -8, -17])

fig.savefig('out.png', dpi=100, facecolor='white')
